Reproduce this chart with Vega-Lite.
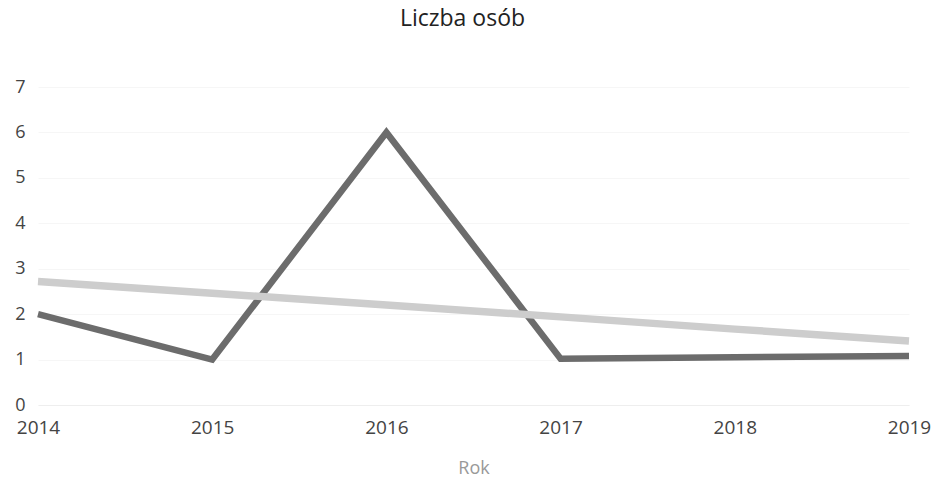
{
  "$schema": "https://vega.github.io/schema/vega-lite/v6.json",
  "autosize": "none",
  "width": 871,
  "height": 318,
  "padding": {"left": 38, "top": 87, "right": 25, "bottom": 77},
  "background": "white",
  "config": {"view": {"stroke": null}, "font": "Open Sans"},
  "title": {"text": "Liczba osób", "fontSize": 23, "fontWeight": "normal", "color": "#222222", "font": "Open Sans", "offset": 47, "dx": -11},
  "data": {"values": [
    {"Rok": 2014, "value": 2, "series": "Liczba osób"},
    {"Rok": 2015, "value": 1, "series": "Liczba osób"},
    {"Rok": 2016, "value": 6, "series": "Liczba osób"},
    {"Rok": 2017, "value": 1.02, "series": "Liczba osób"},
    {"Rok": 2018, "value": 1.05, "series": "Liczba osób"},
    {"Rok": 2019, "value": 1.08, "series": "Liczba osób"},
    {"Rok": 2014, "value": 2.72, "series": "Trend"},
    {"Rok": 2015, "value": 2.46, "series": "Trend"},
    {"Rok": 2016, "value": 2.2, "series": "Trend"},
    {"Rok": 2017, "value": 1.94, "series": "Trend"},
    {"Rok": 2018, "value": 1.67, "series": "Trend"},
    {"Rok": 2019, "value": 1.41, "series": "Trend"}
  ]},
  "mark": {"type": "line", "strokeJoin": "miter"},
  "encoding": {
    "x": {"field": "Rok", "type": "quantitative",
      "scale": {"domain": [2014, 2019], "nice": false, "zero": false},
      "axis": {"values": [2014, 2015, 2016, 2017, 2018, 2019], "format": "d", "grid": false, "ticks": false, "domain": true, "domainColor": "#eeeeee",
        "labelFlush": false, "labelBound": false, "labelOverlap": false,
        "labelFontSize": 19, "labelColor": "#444444", "labelPadding": 13, "labelFont": "Open Sans",
        "title": "Rok", "titleFontSize": 18, "titleFontWeight": "normal", "titleColor": "#999999", "titlePadding": 22, "titleFont": "Open Sans"}},
    "y": {"field": "value", "type": "quantitative",
      "scale": {"domain": [0, 7], "nice": false},
      "axis": {"values": [0, 1, 2, 3, 4, 5, 6, 7], "grid": true, "gridColor": "#f6f6f6", "ticks": false, "domain": false,
        "labelFontSize": 18, "labelColor": "#444444", "labelPadding": 13, "labelFont": "Open Sans", "title": null}},
    "color": {"field": "series", "type": "nominal",
      "scale": {"domain": ["Liczba osób", "Trend"], "range": ["#6c6c6c", "#cdcdcd"]}, "legend": null},
    "strokeWidth": {"field": "series", "type": "nominal",
      "scale": {"domain": ["Liczba osób", "Trend"], "range": [6.5, 7.5]}, "legend": null},
    "order": {"field": "Rok"}
  }
}
